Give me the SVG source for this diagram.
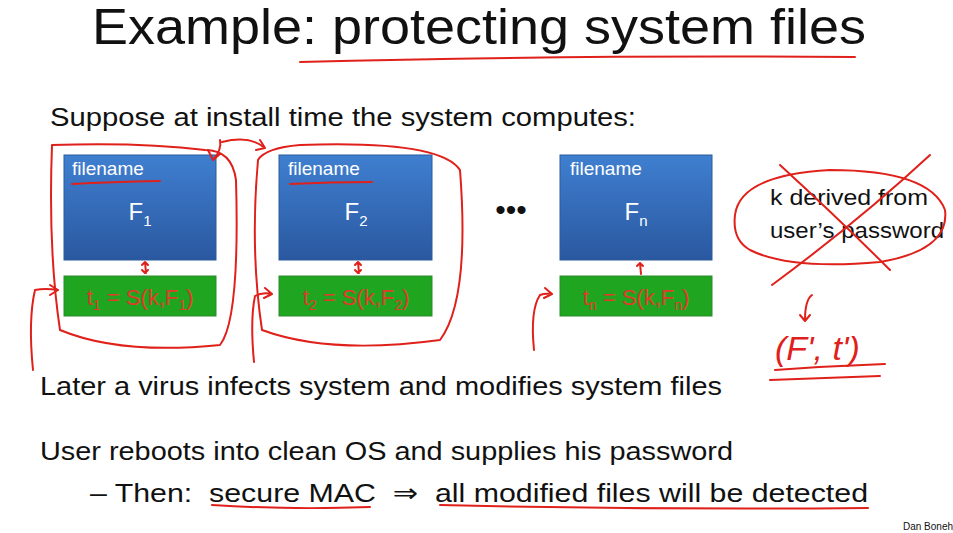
<svg xmlns="http://www.w3.org/2000/svg" width="953" height="533" viewBox="0 0 953 533">
<defs>
<linearGradient id="bg" x1="0" y1="0" x2="0" y2="1"><stop offset="0" stop-color="#3f7fd0"/><stop offset="1" stop-color="#2a58a0"/></linearGradient>
<style>
text{font-family:"Liberation Sans","DejaVu Sans",sans-serif}
.blue{fill:url(#bg);stroke:#2b5d9c;stroke-width:1}
.green{fill:#1fa51f;stroke:#2f8a2f}
.fn{font-size:19px;fill:#fff}
.F{font-size:24px;fill:#fff;text-anchor:middle}
.t{font-size:22px;fill:#e03a2a;text-anchor:middle}
.ink{fill:none;stroke:#e0201a;stroke-width:2;stroke-linecap:round;stroke-linejoin:round}
.body{font-size:26px;fill:#111}
</style>
</defs>
<rect width="953" height="533" fill="#fff"/>
<text x="92" y="44" font-size="50" fill="#111" textLength="774" lengthAdjust="spacingAndGlyphs">Example:  protecting system files</text>
<text x="50" y="126" class="body" textLength="586" lengthAdjust="spacingAndGlyphs">Suppose at install time the system computes:</text>
<g id="node1"><rect x="64" y="155" width="152" height="105" class="blue"/><text x="72" y="175" class="fn">filename</text><text x="140" y="220" class="F">F<tspan font-size="15" dy="6">1</tspan></text>
<rect x="64" y="276" width="152" height="40" class="green"/><text x="140" y="305" class="t">t<tspan font-size="14" dy="5">1</tspan><tspan dy="-5"> = S(k,F</tspan><tspan font-size="14" dy="5">1</tspan><tspan dy="-5">)</tspan></text></g>
<g id="node2"><rect x="279" y="155" width="153" height="105" class="blue"/><text x="288" y="175" class="fn">filename</text><text x="356" y="220" class="F">F<tspan font-size="15" dy="6">2</tspan></text>
<rect x="279" y="276" width="153" height="40" class="green"/><text x="356" y="305" class="t">t<tspan font-size="14" dy="5">2</tspan><tspan dy="-5"> = S(k,F</tspan><tspan font-size="14" dy="5">2</tspan><tspan dy="-5">)</tspan></text></g>
<text x="511" y="220" font-size="30" text-anchor="middle" fill="#111">•••</text>
<g id="node3"><rect x="560" y="155" width="152" height="105" class="blue"/><text x="570" y="175" class="fn">filename</text><text x="636" y="220" class="F">F<tspan font-size="15" dy="6">n</tspan></text>
<rect x="560" y="276" width="152" height="40" class="green"/><text x="636" y="305" class="t">t<tspan font-size="14" dy="5">n</tspan><tspan dy="-5"> = S(k,F</tspan><tspan font-size="14" dy="5">n</tspan><tspan dy="-5">)</tspan></text></g>
<text x="770" y="205" font-size="22" fill="#111" textLength="158" lengthAdjust="spacingAndGlyphs">k derived from</text>
<text x="770" y="238" font-size="22" fill="#111" textLength="174" lengthAdjust="spacingAndGlyphs">user’s password</text>
<g id="connectors" class="ink">
<path d="M72 184 Q110 182 160 181"/><path d="M290 184 Q330 182 372 182"/>
<path d="M145 262 L146 273 M142 265 l3 -3 l3 3 M142 270 l3 3 l3 -3"/>
<path d="M358 262 L359 273 M355 265 l3 -3 l3 3 M355 270 l3 3 l3 -3"/>
<path d="M640 263 L641 274 M637 266 l3 -3 l3 3"/>
<path d="M52 145 Q48 250 60 330 Q120 355 220 345 Q240 320 236 180 Q232 150 205 150 Q140 142 52 145"/>
<path d="M33 370 Q28 320 35 290 Q45 288 58 290 M50 285 l8 5 l-8 5"/>
<path d="M213 160 Q222 150 220 140 M208 150 l5 10 l7 -6"/>
<path d="M222 142 Q250 135 265 148 M260 140 l5 8 l-9 2"/>
<path d="M258 160 Q250 250 262 330 Q330 355 440 340 Q470 300 460 170 Q440 140 300 145 Q265 148 258 160"/>
<path d="M254 362 Q250 320 255 296 Q262 292 272 294 M265 288 l7 6 l-8 4"/>
<path d="M534 350 Q530 310 540 295 Q545 293 552 294 M545 288 l7 6 l-8 4"/>
<path d="M735 215 Q740 175 830 170 Q930 170 945 210 Q950 250 880 262 Q790 270 750 250 Q732 240 735 215"/>
<path d="M930 155 Q860 220 772 285"/><path d="M780 165 Q840 220 890 270"/>
<path d="M812 295 Q805 300 805 320 M800 315 l5 6 l5 -6"/>
<text x="775" y="360" font-size="34" font-style="italic" fill="#e0201a" stroke="none" font-family="Liberation Serif">(F', t')</text>
<path d="M775 370 Q830 366 885 364 M770 380 Q830 378 880 376"/>
<path d="M300 62 Q560 55 855 57"/>
<path d="M212 505 Q290 510 370 507"/><path d="M440 505 Q650 510 868 508"/>
</g>
<text x="40" y="395" class="body" textLength="682" lengthAdjust="spacingAndGlyphs">Later a virus infects system and modifies system files</text>
<text x="40" y="460" class="body" textLength="693" lengthAdjust="spacingAndGlyphs">User reboots into clean OS and supplies his password</text>
<text x="90" y="502" class="body" xml:space="preserve" textLength="778" lengthAdjust="spacingAndGlyphs">– Then:  secure MAC  ⇒  all modified files will be detected</text>
<text x="903" y="530" font-size="10" fill="#111">Dan Boneh</text>
</svg>
